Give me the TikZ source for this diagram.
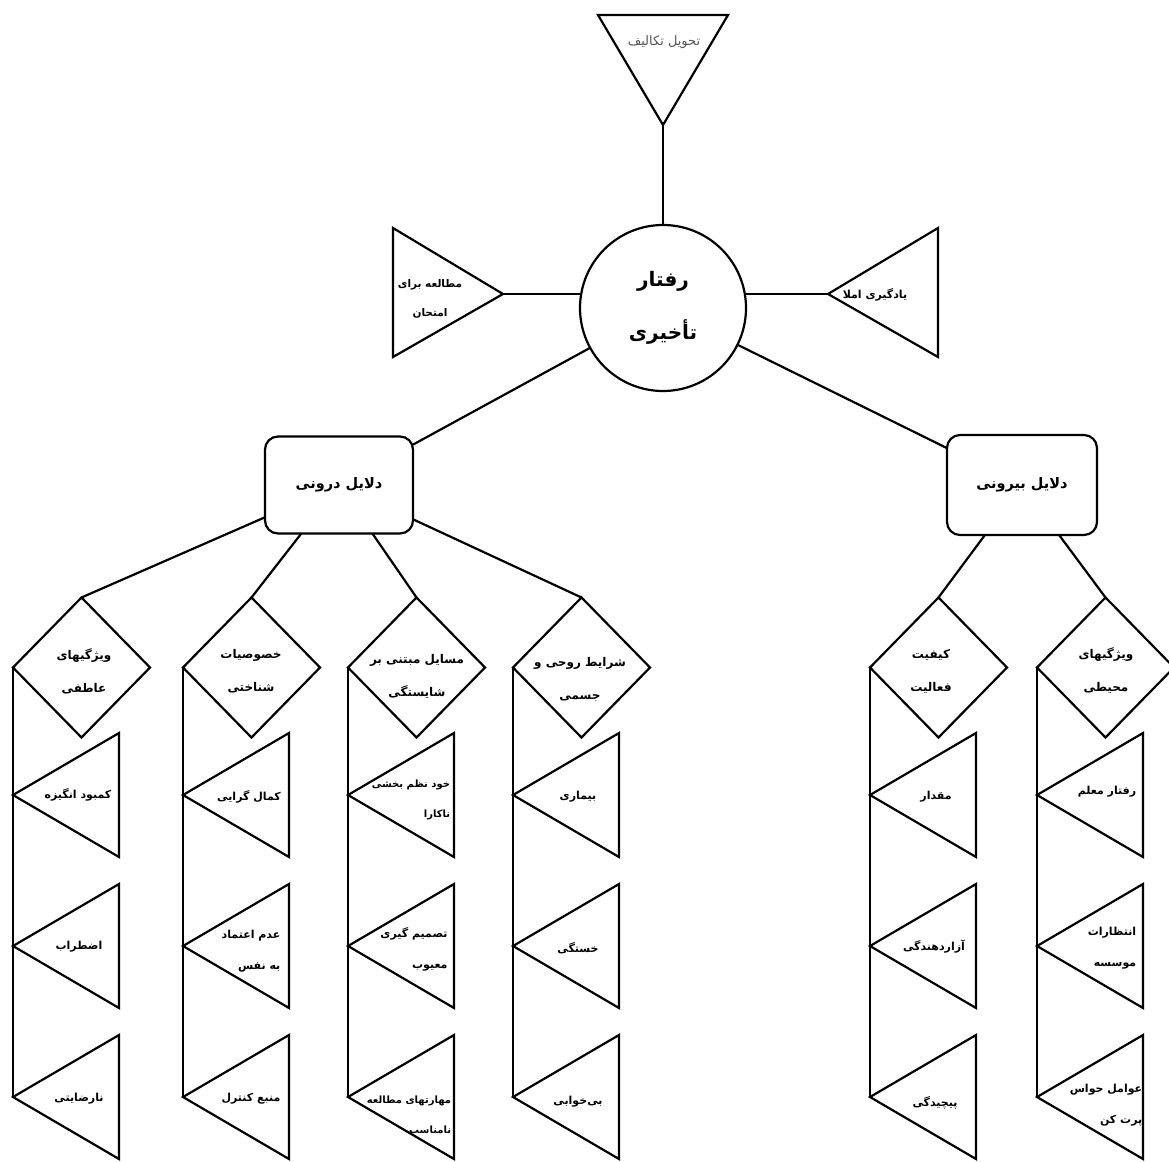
\documentclass[tikz,border=0pt]{standalone}
\usepackage{fontspec}
\usetikzlibrary{shapes.geometric}
\newfontfamily\fafont[Script=Arabic]{DejaVu Sans}
\TeXXeTstate=1
% one right-to-left line of Persian text
\newcommand\pline[1]{\beginR #1\endR}
\definecolor{softgray}{RGB}{85,85,85}

\begin{document}
\begin{tikzpicture}[x=1pt,y=-1pt,line width=2.2pt,
  hub/.style={circle,draw,minimum size=166pt,inner sep=0pt,outer sep=0pt,
    align=center,font=\fafont\bfseries\fontsize{20}{53}\selectfont},
  causebox/.style={rectangle,rounded corners=13pt,draw,minimum width=148pt,
    minimum height=97pt,inner sep=0pt,outer sep=0pt,
    font=\fafont\bfseries\fontsize{14.5}{16}\selectfont},
  factor/.style={diamond,draw,minimum width=137pt,minimum height=140pt,
    inner sep=0pt,outer sep=0pt},
  flabel/.style={align=center,inner sep=0pt,
    font=\fafont\bfseries\fontsize{12}{33}\selectfont},
  tlabel/.style={align=right,inner sep=0pt,
    font=\fafont\bfseries\fontsize{11}{31}\selectfont},
  narrowlabel/.style={tlabel,font=\fafont\bfseries\fontsize{10}{30}\selectfont},
  toplabel/.style={align=center,inner sep=0pt,text=softgray,
    font=\fafont\fontsize{13}{15}\selectfont}]
\useasboundingbox (0,0) rectangle (1169,1161);

% central behaviour
\node[hub] (c) at (663,308) {\pline{رفتار}\\\pline{تأخیری}};

% three outcome triangles around the hub
\draw (598,15) -- (728,15) -- (663,125) coordinate (ttip) -- cycle;
\node[toplabel] (tt) at (664,42) {\pline{تحویل تکالیف}};
\draw (393,228) -- (393,357) -- (503,294) coordinate (lap) -- cycle;
\node[tlabel,align=center,font=\fafont\bfseries\fontsize{10.5}{29}\selectfont] (lt) at (430,299) {\pline{مطالعه برای}\\\pline{امتحان}};
\draw (938,228) -- (938,357) -- (828,294) coordinate (rap) -- cycle;
\node[tlabel,font=\fafont\bfseries\fontsize{11}{14}\selectfont] (rt) at (875,295) {\pline{یادگیری املا}};
\draw (ttip) -- (c);
\draw (lap) -- (lap -| c.west);
\draw (rap) -- (rap -| c.east);

% internal / external causes
\node[causebox] (bl) at (339,485) {\pline{دلایل درونی}};
\node[causebox,minimum width=150pt,minimum height=100pt] (br) at (1022,485) {\pline{دلایل بیرونی}};
\draw (c) -- (bl);
\draw (c) -- (br);

% factor groups
\node[factor] (d1) at (81.5,667.5) {};
\node[factor] (d2) at (251.5,667.5) {};
\node[factor] (d3) at (416.5,667.5) {};
\node[factor] (d4) at (581.5,667.5) {};
\node[factor] (d5) at (938.5,667.5) {};
\node[factor] (d6) at (1105.5,667.5) {};
\node[flabel] (f1) at (84,671) {\pline{ویژگیهای}\\\pline{عاطفی}};
\node[flabel] (f2) at (251,671) {\pline{خصوصیات}\\\pline{شناختی}};
\node[flabel] (f3) at (417,676) {\pline{مسایل مبتنی بر}\\\pline{شایستگی}};
\node[flabel] (f4) at (580,679) {\pline{شرایط روحی و}\\\pline{جسمی}};
\node[flabel] (f5) at (931,671) {\pline{کیفیت}\\\pline{فعالیت}};
\node[flabel] (f6) at (1106,671) {\pline{ویژگیهای}\\\pline{محیطی}};
\foreach \d in {d1,d2,d3,d4} \draw (bl) -- (\d.north);
\foreach \d in {d5,d6} \draw (br) -- (\d.north);

% item triangles hanging from each column line
\foreach \x/\n in {13/a,183/b,348/c,513/d,870/e,1037/f}{
  \foreach \y/\k in {795/1,946/2,1097/3}{
    \coordinate (t\n\k) at (\x,\y);
    \draw (t\n\k) -- ++(106,-62) -- ++(0,124) -- cycle;
  }
}
\draw (d1.west) -- (ta3);
\draw (d2.west) -- (tb3);
\draw (d3.west) -- (tc3);
\draw (d4.west) -- (td3);
\draw (d5.west) -- (te3);
\draw (d6.west) -- (tf3);

% item labels
\node[tlabel] (la1) at (78,795) {\pline{کمبود انگیزه}};
\node[tlabel] (la2) at (79,947) {\pline{اضطراب}};
\node[tlabel] (la3) at (79,1099) {\pline{نارضایتی}};
\node[tlabel] (lb1) at (249,797) {\pline{کمال گرایی}};
\node[tlabel] (lb2) at (251,951) {\pline{عدم اعتماد}\\\pline{به نفس}};
\node[tlabel] (lb3) at (251,1099) {\pline{منبع کنترل}};
\node[narrowlabel] (lc1) at (411,800) {\pline{خود نظم بخشی}\\\pline{ناکارا}};
\node[tlabel] (lc2) at (414,949) {\pline{تصمیم گیری}\\\pline{معیوب}};
\node[narrowlabel] (lc3) at (409,1115) {\pline{مهارتهای مطالعه}\\\pline{نامناسب}};
\node[tlabel] (ld1) at (578,797) {\pline{بیماری}};
\node[tlabel] (ld2) at (578,948) {\pline{خستگی}};
\node[tlabel] (ld3) at (578,1102) {\pline{بی‌خوابی}};
\node[tlabel] (le1) at (936,797) {\pline{مقدار}};
\node[tlabel] (le2) at (934,947) {\pline{آزاردهندگی}};
\node[tlabel] (le3) at (935,1103) {\pline{پیچیدگی}};
\node[tlabel] (lf1) at (1107,792) {\pline{رفتار معلم}};
\node[tlabel] (lf2) at (1112,948) {\pline{انتظارات}\\\pline{موسسه}};
\node[tlabel] (lf3) at (1106,1105) {\pline{عوامل حواس}\\\pline{پرت کن}};
\end{tikzpicture}
\end{document}
